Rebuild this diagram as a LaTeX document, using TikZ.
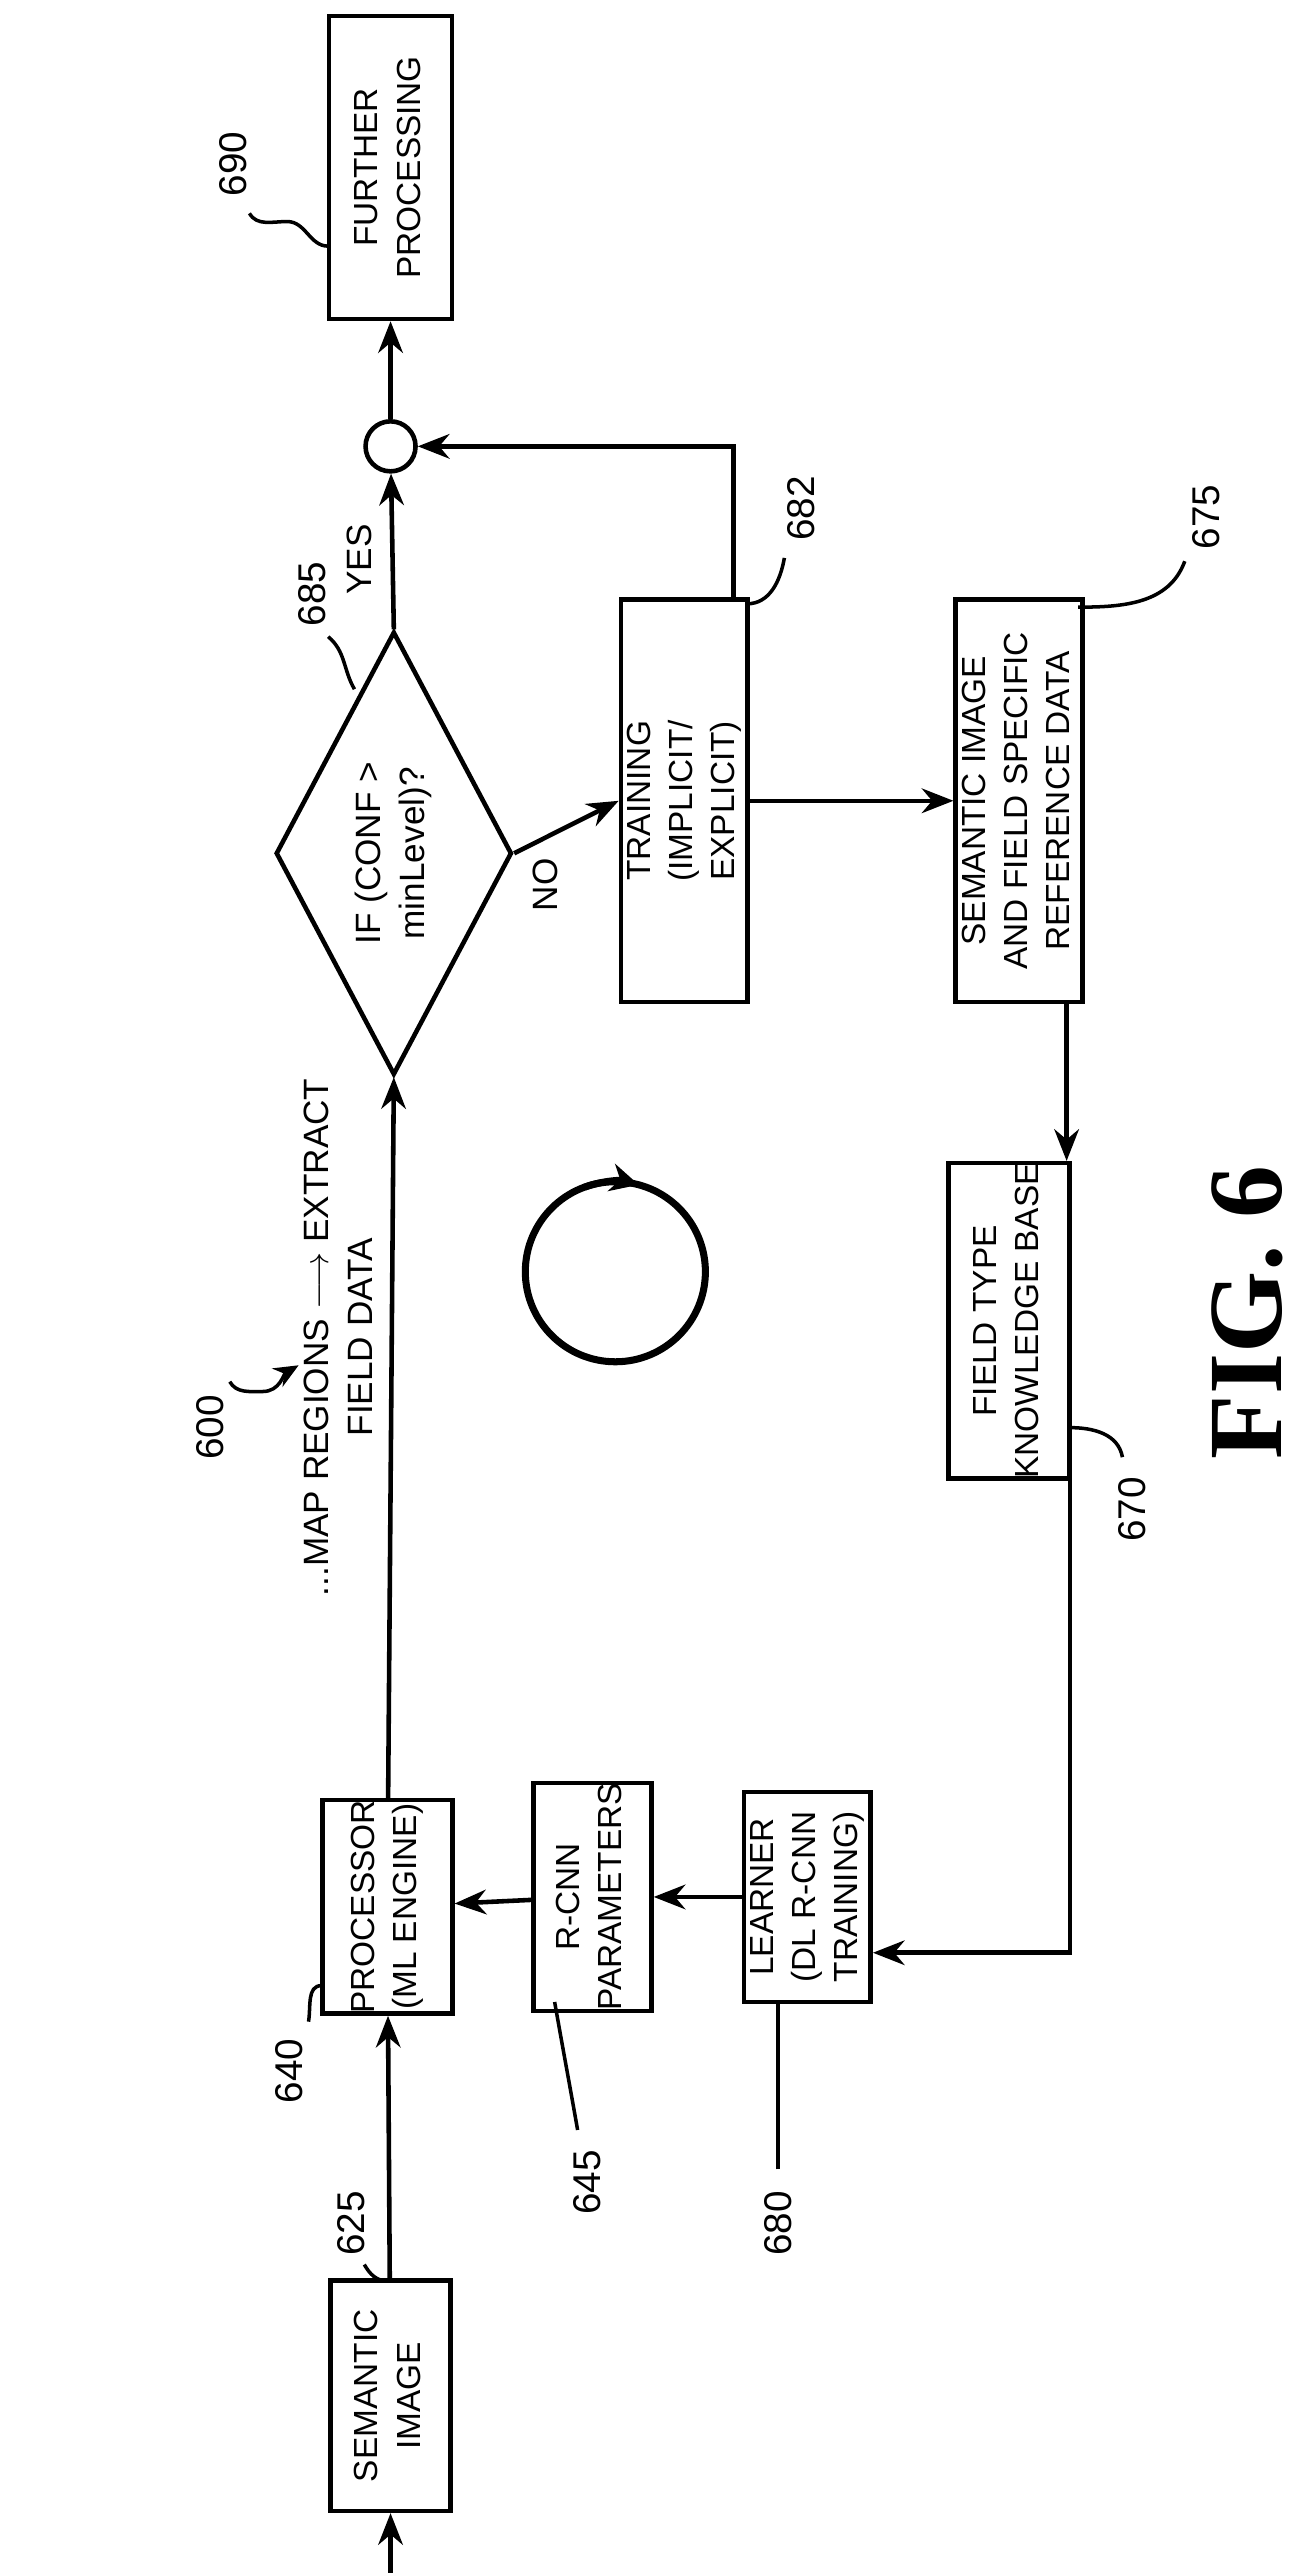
\documentclass[tikz,border=0pt]{standalone}
\usepackage{fontspec}
\setmainfont{Liberation Sans}
\newfontfamily\figfont{Liberation Serif}
\usetikzlibrary{arrows.meta,shapes.geometric}
\tikzset{
  blk/.style={draw,line width=1.3pt,inner sep=0pt,font=\fontsize{9.5}{12}\selectfont},
  lbl/.style={rotate=90,font=\fontsize{11}{13}\selectfont},
  arr/.style={line width=1.3pt,-{Stealth[length=9pt,width=7pt]}},
  lead/.style={line width=1pt}
}
\newcommand{\rt}[1]{\rotatebox{90}{\begin{tabular}{@{}c@{}}#1\end{tabular}}}
\begin{document}
\begin{tikzpicture}[x=0.0164cm,y=-0.0164cm]
    \useasboundingbox (0,0) rectangle (800,1568);
    % boxes
    \node[blk,minimum width=1.2cm,minimum height=2.3cm] (si) at (238,1460) {\rt{SEMANTIC\\IMAGE}};
    \node[blk,minimum width=1.3cm,minimum height=2.05cm] (proc) at (236,1162) {\rt{PROCESSOR\\(ML ENGINE)}};
    \node[blk,minimum width=1.18cm,minimum height=2.1cm] (rcnn) at (361,1156) {\rt{R-CNN\\PARAMETERS}};
    \node[blk,minimum width=1.23cm,minimum height=2.1cm] (learn) at (492,1156) {\rt{LEARNER\\(DL R-CNN\\TRAINING)}};
    \node[blk,minimum width=1.21cm,minimum height=2.62cm] (kb) at (615,805) {\rt{FIELD TYPE\\KNOWLEDGE BASE}};
    \node[blk,minimum width=1.18cm,minimum height=4.02cm] (ref) at (621,488) {\rt{SEMANTIC IMAGE\\AND FIELD SPECIFIC\\REFERENCE DATA}};
    \node[blk,minimum width=1.23cm,minimum height=4.02cm] (train) at (417,488) {\rt{TRAINING\\(IMPLICIT/\\EXPLICIT)}};
    \node[blk,minimum width=1.23cm,minimum height=3.03cm] (fp) at (238,102) {\rt{FURTHER\\PROCESSING}};
    \node[draw,line width=1.3pt,shape=diamond,minimum width=2.36cm,minimum height=4.43cm,inner sep=0pt] (dec) at (240,520) {};
    \node[font=\fontsize{10}{12.5}\selectfont] (dect) at (dec.center) {\rt{IF (CONF >\\minLevel)?}};
    \node[draw,circle,line width=1.3pt,minimum size=0.5cm,inner sep=0pt] (jn) at (238,272) {};
    % flow
    \coordinate (in) at (238,1568);
    \draw[arr] (in) -- (si);
    \draw[arr] (si) -- (proc);
    \draw[arr] (rcnn) -- (proc);
    \draw[arr] (learn) -- (rcnn);
    \coordinate (k1) at (652,1190);
    \draw[arr] (652,840) -- (k1) -- (learn.east |- k1);
    \draw[arr] (proc) -- (dec.south);
    \node[font=\fontsize{10}{12.5}\selectfont] (maptxt) at (208,815) {\rt{...MAP REGIONS $\longrightarrow$ EXTRACT\\FIELD DATA}};
    \draw[arr] (dec.east) -- (train.west) node[pos=0.3,below=2pt,font=\fontsize{10}{12}\selectfont] {\rotatebox{90}{NO}};
    \draw[arr] (train) -- (ref);
    \draw[arr] (ref.south -| 650,0) -- (kb.north -| 650,0);
    \draw[arr] (dec.north) -- (jn) node[pos=0.45,left=2pt,font=\fontsize{10}{12}\selectfont] {\rotatebox{90}{YES}};
    \draw[arr] (train.north -| 447,0) -- (447,272) -- (jn);
    \draw[arr] (jn) -- (fp);
    % cycle
    \draw[line width=2pt] (375,775) circle[radius=0.9cm];
    \draw[line width=2pt,-{Stealth[length=8pt,width=8pt]}] (375,775) ++(110:0.9cm) arc[start angle=110,end angle=75,radius=0.9cm];
    % reference labels
    \node[lbl] (l690) at (142,100) {690};
    \draw[lead] (152,130) to[out=-60,in=180] (175,135) to[out=0,in=180] (200,150);
    \node[lbl] (l685) at (190,362) {685};
    \draw[lead] (200,388) to[out=-40,in=120] (216,420);
    \node[lbl] (l682) at (488,310) {682};
    \draw[lead] (478,340) to[out=-100,in=0] (455,368);
    \node[lbl] (l675) at (735,315) {675};
    \draw[lead] (722,342) to[out=-110,in=0] (657,370);
    \node[lbl] (l670) at (690,920) {670};
    \draw[lead] (684,888) to[out=100,in=0] (652,870);
    \node[lbl] (l640) at (176,1262) {640};
    \draw[lead] (188,1232) to[out=80,in=180] (196,1210);
    \node[lbl] (l645) at (358,1330) {645};
    \draw[lead] (352,1298) to[out=100,in=-80] (338,1220);
    \node[lbl] (l625) at (214,1355) {625};
    \draw[lead] (222,1380) to[out=-60,in=180] (236,1390);
    \node[lbl] (l680) at (474,1355) {680};
    \draw[lead] (474,1322) -- (474,1220);
    \node[lbl] (l600) at (128,870) {600};
    \draw[lead,-{Stealth[length=7pt,width=6pt]}] (140,842) to[out=-60,in=180] (160,848) to[out=0,in=-150] (182,832);
    \node[rotate=90,font=\figfont\bfseries\fontsize{30}{34}\selectfont] (fig) at (760,800) {FIG. 6};
\end{tikzpicture}
\end{document}
